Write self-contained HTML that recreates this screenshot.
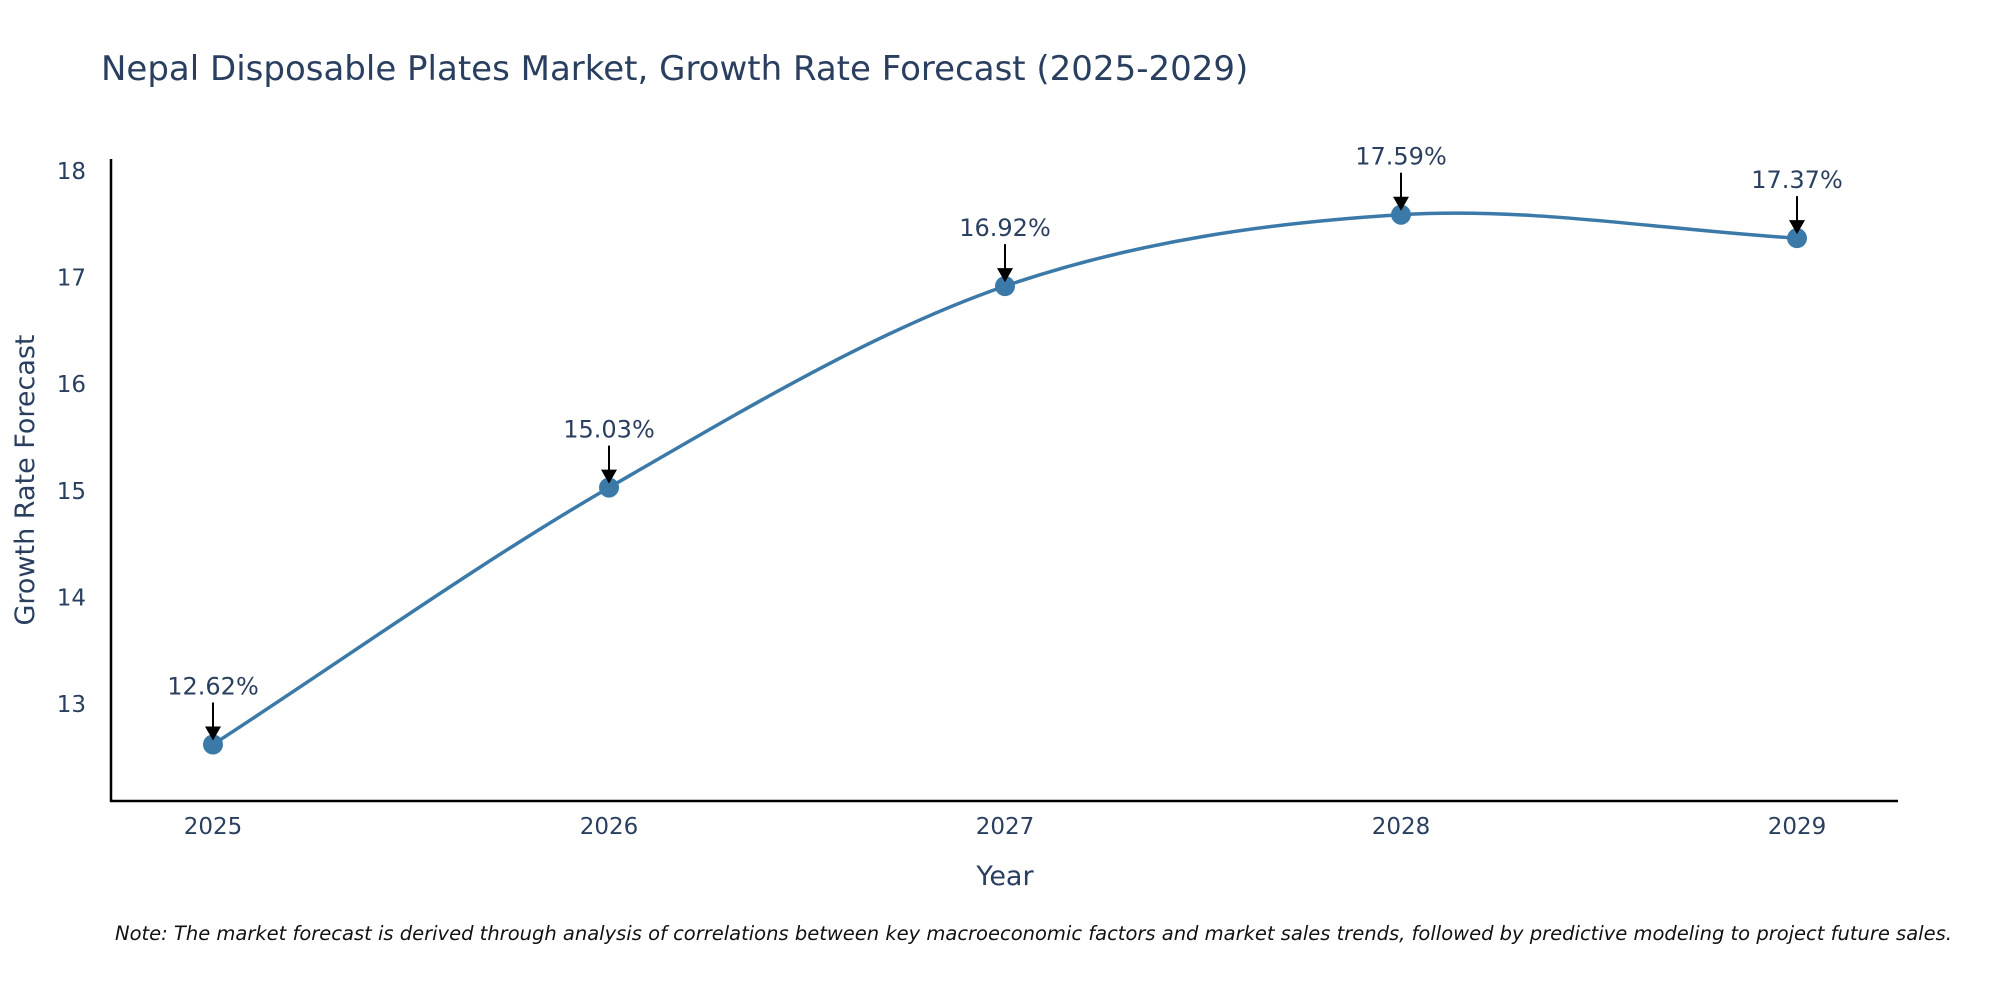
<!DOCTYPE html>
<html><head><meta charset="utf-8"><style>
html,body{margin:0;padding:0;background:#fff;overflow:hidden;}
svg text{font-family:"DejaVu Sans","Liberation Sans",sans-serif;}
</style></head><body>
<svg id="chart" width="2000" height="1000" xmlns="http://www.w3.org/2000/svg">
<text x="101" y="80" font-size="34" fill="#2a3f5f">Nepal Disposable Plates Market, Growth Rate Forecast (2025-2029)</text>
<g id="yticks"></g>
<g id="xticks"></g>
<line x1="111" y1="159" x2="111" y2="802" stroke="#000" stroke-width="2.5"/>
<line x1="110" y1="801" x2="1898" y2="801" stroke="#000" stroke-width="2.5"/>
<path id="line" fill="none" stroke="#3b7aa8" stroke-width="3.5"/>
<g id="points"></g>
<g id="annots"></g>
<text x="1005" y="885" font-size="27" fill="#2a3f5f" text-anchor="middle">Year</text>
<text x="34" y="480" font-size="27" fill="#2a3f5f" text-anchor="middle" transform="rotate(-90 34 480)">Growth Rate Forecast</text>
<text x="115" y="940" font-size="19.5" font-style="italic" fill="#111">Note: The market forecast is derived through analysis of correlations between key macroeconomic factors and market sales trends, followed by predictive modeling to project future sales.</text>
</svg>
<script>
const years = [2025, 2026, 2027, 2028, 2029];
const values = [12.62, 15.03, 16.92, 17.59, 17.37];
const labels = ["12.62%", "15.03%", "16.92%", "17.59%", "17.37%"];
const yTicks = [13, 14, 15, 16, 17, 18];

const NS = "http://www.w3.org/2000/svg";
function xs(yr){ return 213 + (yr - 2025) * 396; }
function ys(v){ return 704 - (v - 13) * 106.6; }
function mk(tag, attrs, parent, txt){
  const e = document.createElementNS(NS, tag);
  for (const k in attrs) e.setAttribute(k, attrs[k]);
  if (txt !== undefined) e.textContent = txt;
  parent.appendChild(e); return e;
}
const yt = document.getElementById('yticks');
yTicks.forEach(t => {
  const e = mk('text', {x: 86, y: ys(t) + 8, 'font-size': 23, fill: '#2a3f5f', 'text-anchor': 'end'}, yt, String(t));
  
  
});
const xt = document.getElementById('xticks');
years.forEach(y => {
  const e = mk('text', {x: xs(y), y: 834, 'font-size': 23, fill: '#2a3f5f', 'text-anchor': 'middle'}, xt, String(y));
  
  
});
const pts = years.map((y, i) => [xs(y), ys(values[i])]);
let d = `M${pts[0][0]},${pts[0][1]}`;
const tt = 0.33;
for (let i = 0; i < pts.length - 1; i++) {
  const p0 = pts[Math.max(0, i - 1)], p1 = pts[i], p2 = pts[i + 1], p3 = pts[Math.min(pts.length - 1, i + 2)];
  const c1 = [p1[0] + (p2[0] - p0[0]) * tt / 2 * (i === 0 ? 2 : 1), p1[1] + (p2[1] - p0[1]) * tt / 2 * (i === 0 ? 2 : 1)];
  const last = i + 2 > pts.length - 1;
  const c2 = [p2[0] - (p3[0] - p1[0]) * tt / 2 * (last ? 2 : 1), p2[1] - (p3[1] - p1[1]) * tt / 2 * (last ? 2 : 1)];
  d += ` C${c1[0]},${c1[1]} ${c2[0]},${c2[1]} ${p2[0]},${p2[1]}`;
}
document.getElementById('line').setAttribute('d', d);
const pg = document.getElementById('points');
const ag = document.getElementById('annots');
pts.forEach((p, i) => {
  const c = mk('circle', {cx: p[0], cy: p[1], r: 10, fill: '#3b7aa8'}, pg);
  
  
  const l = mk('line', {x1: p[0], y1: p[1] - 42, x2: p[0], y2: p[1] - 16, stroke: '#000', 'stroke-width': 2}, ag);
  
  
  const h = mk('polygon', {points: `${p[0]-8},${p[1]-18} ${p[0]+8},${p[1]-18} ${p[0]},${p[1]-4}`, fill: '#000'}, ag);
  
  
  const t = mk('text', {x: p[0], y: p[1] - 50, 'font-size': 24, fill: '#2a3f5f', 'text-anchor': 'middle'}, ag, labels[i]);
  
  
});
</script>
</body></html>
